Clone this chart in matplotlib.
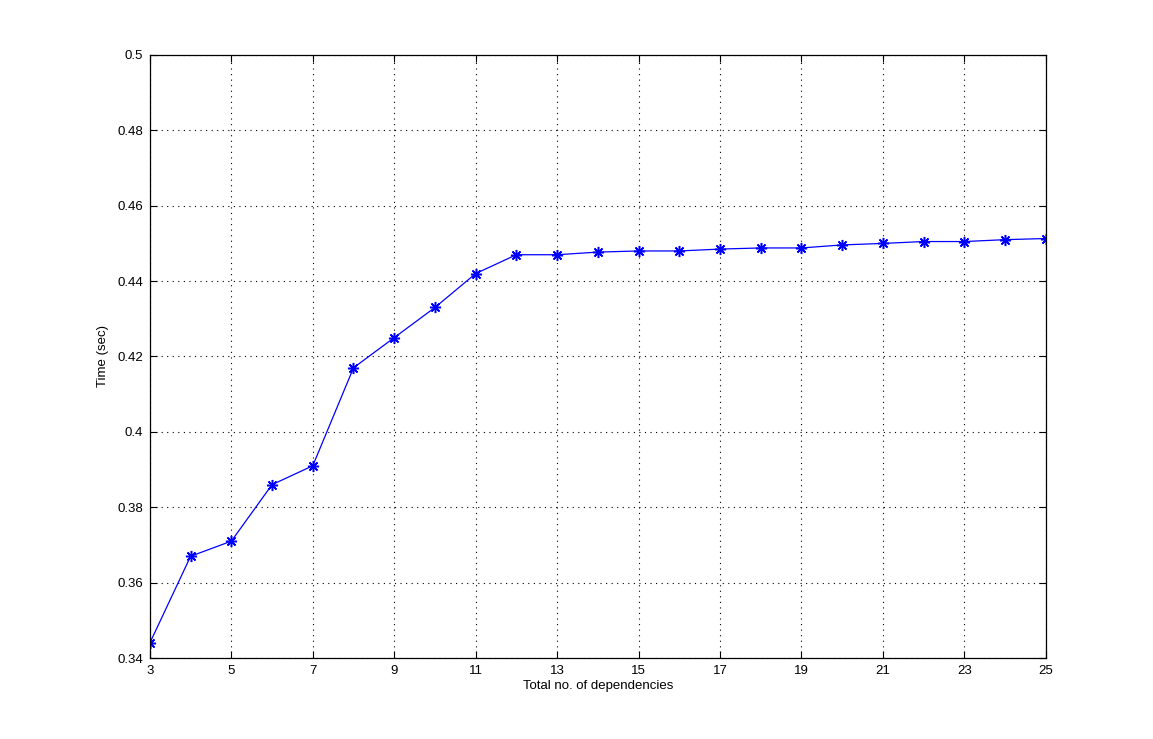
import matplotlib
matplotlib.use('Agg')
import matplotlib.pyplot as plt

plt.rcParams['font.family'] = ['Liberation Sans', 'DejaVu Sans']

deps = [3, 4, 5, 6, 7, 8, 9, 10, 11, 12, 13, 14, 15, 16, 17, 18, 19, 20, 21, 22, 23, 24, 25]
times = [0.344, 0.367, 0.371, 0.386, 0.391, 0.417, 0.425, 0.433, 0.442, 0.447, 0.447, 0.4477,
         0.448, 0.448, 0.4485, 0.4488, 0.4488, 0.4496, 0.450, 0.4505, 0.4505, 0.451, 0.4513]
xticks = [3, 5, 7, 9, 11, 13, 15, 17, 19, 21, 23, 25]
yticks = [0.34, 0.36, 0.38, 0.4, 0.42, 0.44, 0.46, 0.48, 0.5]
ylabels = ['0.34', '0.36', '0.38', '0.4', '0.42', '0.44', '0.46', '0.48', '0.5']

fig = plt.figure(figsize=(11.53, 7.39), dpi=100)
ax = fig.add_axes([0.13, 0.1096, 0.777, 0.816])
ax.plot(deps, times, color='blue', linewidth=0.9, marker=(8, 2, 0), markersize=8,
        markeredgewidth=1.1)
ax.set_xlim(3, 25)
ax.set_ylim(0.34, 0.5)
ax.set_xticks(xticks)
ax.set_yticks(yticks)
ax.set_yticklabels(ylabels)
ax.tick_params(direction='in', length=5, labelsize=9.5, top=True, right=True, pad=5)
ax.grid(True, color='black', linestyle=(0, (1, 4)), linewidth=0.8)
for s in ax.spines.values():
    s.set_linewidth(0.9)
ax.set_xlabel('Total no. of dependencies', fontsize=9.5, labelpad=2)
ax.set_ylabel('Time (sec)', fontsize=9.5, labelpad=6)

fig.savefig('out.png', dpi=100)
